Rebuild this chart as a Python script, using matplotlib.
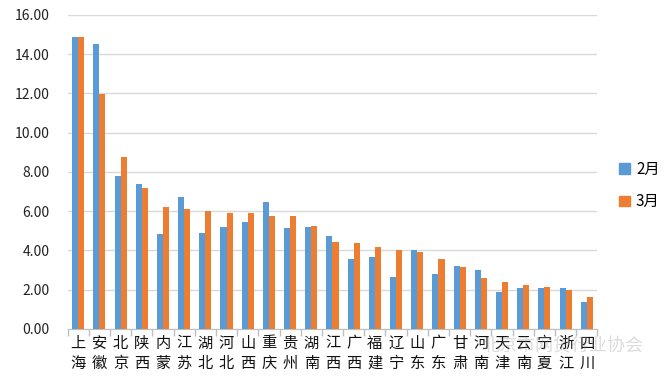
import matplotlib
matplotlib.use('Agg')
import matplotlib.pyplot as plt
from matplotlib.patches import Patch
import numpy as np

plt.rcParams['font.family'] = ['Noto Sans CJK SC', 'DejaVu Sans']

# 各地区2月、3月数据
regions = ['上海', '安徽', '北京', '陕西', '内蒙', '江苏', '湖北', '河北', '山西', '重庆',
           '贵州', '湖南', '江西', '广西', '福建', '辽宁', '山东', '广东', '甘肃', '河南',
           '天津', '云南', '宁夏', '浙江', '四川']
feb = [14.86, 14.53, 7.80, 7.39, 4.85, 6.73, 4.90, 5.20, 5.46, 6.47,
       5.15, 5.20, 4.75, 3.56, 3.66, 2.64, 4.02, 2.80, 3.20, 3.00,
       1.88, 2.08, 2.08, 2.08, 1.37]
mar = [14.86, 11.97, 8.76, 7.19, 6.22, 6.12, 6.02, 5.92, 5.92, 5.76,
       5.76, 5.25, 4.43, 4.37, 4.17, 4.03, 3.92, 3.56, 3.15, 2.59,
       2.41, 2.24, 2.14, 1.98, 1.63]
yticks = [0, 2, 4, 6, 8, 10, 12, 14, 16]

blue = '#5B9BD5'
orange = '#ED7D31'

fig = plt.figure(figsize=(6.69, 3.79), dpi=100)
ax = fig.add_axes([0.101, 0.132, 0.792, 0.829])

x = np.arange(len(regions))
w = 0.285
ax.bar(x - w / 2, feb, w, color=blue, zorder=3)
ax.bar(x + w / 2, mar, w, color=orange, zorder=3)

ax.set_xlim(-0.5, len(regions) - 0.5)
ax.set_ylim(0, 16)
ax.set_yticks(yticks)
ax.set_yticklabels([f'{v:.2f}' for v in yticks], fontsize=10, color='#222222')
ax.yaxis.grid(True, color='#D9D9D9', linewidth=1, zorder=0)
ax.tick_params(axis='y', length=0, pad=13)

# 分类标签竖排
ax.set_xticks(x)
ax.set_xticklabels(['\n'.join(r) for r in regions], fontsize=11, linespacing=1.25,
                   color='#111111')
ax.tick_params(axis='x', length=0, pad=4)
ax.set_xticks(np.arange(len(regions) + 1) - 0.5, minor=True)
ax.tick_params(axis='x', which='minor', length=5, color='#BFBFBF', width=1)

for s in ['top', 'right', 'left']:
    ax.spines[s].set_visible(False)
ax.spines['bottom'].set_color('#BFBFBF')

handles = [Patch(color=blue, label='2月'), Patch(color=orange, label='3月')]
fig.legend(handles=handles, loc='center left', bbox_to_anchor=(0.905, 0.51),
           frameon=False, fontsize=11, handlelength=0.7, handleheight=0.7,
           handletextpad=0.4, labelspacing=1.0)

# 水印
fig.text(0.72, 0.085, '北京市网贷行业协会', fontsize=13, color='#888888', alpha=0.3,
         ha='left', va='center')

fig.savefig('out.png', dpi=100)
